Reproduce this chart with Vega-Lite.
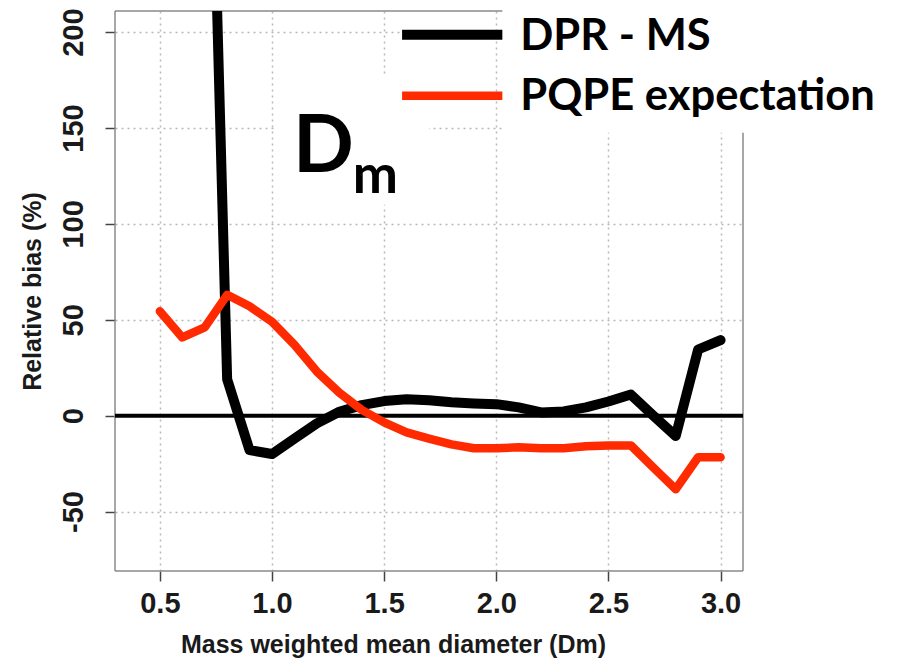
{
  "$schema": "https://vega.github.io/schema/vega-lite/v6.json",
  "width": 628,
  "height": 560,
  "autosize": "none",
  "padding": {"left": 115, "top": 11, "right": 172, "bottom": 95},
  "background": "white",
  "config": {
    "view": {"stroke": null},
    "axis": {
      "labelFont": "Liberation Sans",
      "labelFontWeight": "bold",
      "labelFontSize": 29,
      "labelColor": "#1a1a1a",
      "titleFont": "Liberation Sans",
      "titleFontWeight": "bold",
      "titleFontSize": 25,
      "titleColor": "#1a1a1a",
      "tickSize": 10,
      "tickColor": "#444",
      "tickWidth": 1.5,
      "domain": false,
      "grid": true,
      "gridColor": "#b8b8b8",
      "gridDash": [2, 4],
      "gridWidth": 1.5
    }
  },
  "datasets": {
    "series": [
      {"d": 0.7, "bias": 450, "series": "DPR - MS"},
      {"d": 0.8, "bias": 19, "series": "DPR - MS"},
      {"d": 0.9, "bias": -18, "series": "DPR - MS"},
      {"d": 1.0, "bias": -20, "series": "DPR - MS"},
      {"d": 1.1, "bias": -12, "series": "DPR - MS"},
      {"d": 1.2, "bias": -4, "series": "DPR - MS"},
      {"d": 1.3, "bias": 2, "series": "DPR - MS"},
      {"d": 1.4, "bias": 5.5, "series": "DPR - MS"},
      {"d": 1.5, "bias": 7.6, "series": "DPR - MS"},
      {"d": 1.6, "bias": 8.5, "series": "DPR - MS"},
      {"d": 1.7, "bias": 8, "series": "DPR - MS"},
      {"d": 1.8, "bias": 7, "series": "DPR - MS"},
      {"d": 1.9, "bias": 6.4, "series": "DPR - MS"},
      {"d": 2.0, "bias": 6, "series": "DPR - MS"},
      {"d": 2.1, "bias": 4.3, "series": "DPR - MS"},
      {"d": 2.2, "bias": 1.7, "series": "DPR - MS"},
      {"d": 2.3, "bias": 2.2, "series": "DPR - MS"},
      {"d": 2.4, "bias": 4.3, "series": "DPR - MS"},
      {"d": 2.5, "bias": 7.4, "series": "DPR - MS"},
      {"d": 2.6, "bias": 11, "series": "DPR - MS"},
      {"d": 2.7, "bias": 0, "series": "DPR - MS"},
      {"d": 2.8, "bias": -10.6, "series": "DPR - MS"},
      {"d": 2.9, "bias": 34.5, "series": "DPR - MS"},
      {"d": 3.0, "bias": 39.4, "series": "DPR - MS"},
      {"d": 0.5, "bias": 54.5, "series": "PQPE expectation"},
      {"d": 0.6, "bias": 40.8, "series": "PQPE expectation"},
      {"d": 0.7, "bias": 46, "series": "PQPE expectation"},
      {"d": 0.8, "bias": 63, "series": "PQPE expectation"},
      {"d": 0.9, "bias": 57, "series": "PQPE expectation"},
      {"d": 1.0, "bias": 49, "series": "PQPE expectation"},
      {"d": 1.1, "bias": 37, "series": "PQPE expectation"},
      {"d": 1.2, "bias": 23, "series": "PQPE expectation"},
      {"d": 1.3, "bias": 12, "series": "PQPE expectation"},
      {"d": 1.4, "bias": 3, "series": "PQPE expectation"},
      {"d": 1.5, "bias": -3.5, "series": "PQPE expectation"},
      {"d": 1.6, "bias": -8.7, "series": "PQPE expectation"},
      {"d": 1.7, "bias": -12, "series": "PQPE expectation"},
      {"d": 1.8, "bias": -15, "series": "PQPE expectation"},
      {"d": 1.9, "bias": -17, "series": "PQPE expectation"},
      {"d": 2.0, "bias": -17, "series": "PQPE expectation"},
      {"d": 2.1, "bias": -16.5, "series": "PQPE expectation"},
      {"d": 2.2, "bias": -17, "series": "PQPE expectation"},
      {"d": 2.3, "bias": -17, "series": "PQPE expectation"},
      {"d": 2.4, "bias": -16, "series": "PQPE expectation"},
      {"d": 2.5, "bias": -15.5, "series": "PQPE expectation"},
      {"d": 2.6, "bias": -15.5, "series": "PQPE expectation"},
      {"d": 2.7, "bias": -27, "series": "PQPE expectation"},
      {"d": 2.8, "bias": -38.4, "series": "PQPE expectation"},
      {"d": 2.9, "bias": -21.7, "series": "PQPE expectation"},
      {"d": 3.0, "bias": -21.7, "series": "PQPE expectation"}
    ],
    "frame": [
      {"x1": 0.3, "x2": 0.3, "y1": -81, "y2": 211},
      {"x1": 3.1, "x2": 3.1, "y1": -81, "y2": 211},
      {"x1": 0.3, "x2": 3.1, "y1": -81, "y2": -81},
      {"x1": 0.3, "x2": 3.1, "y1": 211, "y2": 211}
    ],
    "boxes": [
      {"x1": 1.015, "x2": 1.7, "y1": 110, "y2": 177},
      {"x1": 2.027, "x2": 4.0, "y1": 147.5, "y2": 240}
    ],
    "legend": [
      {"series": "DPR - MS", "x1": 1.58, "x2": 2.027, "y": 198.6, "lx": 2.107, "ly": 190.8},
      {"series": "PQPE expectation", "x1": 1.58, "x2": 2.027, "y": 166.8, "lx": 2.107, "ly": 159.5}
    ]
  },
  "layer": [
    {
      "data": {"name": "frame"},
      "mark": {"type": "rule", "color": "#8a8a8a", "strokeWidth": 1.5},
      "encoding": {
        "x": {"field": "x1", "type": "quantitative",
              "scale": {"domain": [0.3, 3.1], "nice": false, "zero": false},
              "axis": {"values": [0.5, 1.0, 1.5, 2.0, 2.5, 3.0], "format": ".1f", "labelPadding": 8, "titlePadding": 14, "titleX": 278, "title": "Mass weighted mean diameter (Dm)"}},
        "x2": {"field": "x2"},
        "y": {"field": "y1", "type": "quantitative",
              "scale": {"domain": [-81, 211], "nice": false, "zero": false},
              "axis": {"values": [-50, 0, 50, 100, 150, 200], "labelExpr": "datum.value < 0 ? '-' + abs(datum.value) : '' + datum.value", "labelAngle": -90, "labelAlign": "center", "labelBaseline": "bottom", "labelPadding": 17, "titlePadding": 14, "title": "Relative bias (%)"}},
        "y2": {"field": "y2"}
      }
    },
    {
      "data": {"values": [{"y": 0}]},
      "mark": {"type": "rule", "color": "black", "strokeWidth": 4},
      "encoding": {"y": {"field": "y", "type": "quantitative"}}
    },
    {
      "data": {"name": "series"},
      "mark": {"type": "line", "clip": true, "strokeCap": "round", "strokeJoin": "round"},
      "encoding": {
        "x": {"field": "d", "type": "quantitative"},
        "y": {"field": "bias", "type": "quantitative"},
        "color": {"field": "series", "type": "nominal",
                  "scale": {"domain": ["DPR - MS", "PQPE expectation"], "range": ["#000000", "#ff2a00"]}, "legend": null},
        "strokeWidth": {"field": "series", "type": "nominal",
                  "scale": {"domain": ["DPR - MS", "PQPE expectation"], "range": [10, 8.5]}, "legend": null}
      }
    },
    {
      "data": {"name": "boxes"},
      "mark": {"type": "rect", "color": "white"},
      "encoding": {
        "x": {"field": "x1", "type": "quantitative"},
        "x2": {"field": "x2"},
        "y": {"field": "y1", "type": "quantitative"},
        "y2": {"field": "y2"}
      }
    },
    {
      "data": {"name": "legend"},
      "mark": {"type": "rule", "strokeCap": "butt"},
      "encoding": {
        "x": {"field": "x1", "type": "quantitative"},
        "x2": {"field": "x2"},
        "y": {"field": "y", "type": "quantitative"},
        "color": {"field": "series", "type": "nominal", "scale": {"domain": ["DPR - MS", "PQPE expectation"], "range": ["#000000", "#ff0000"]}, "legend": null},
        "strokeWidth": {"field": "series", "type": "nominal", "scale": {"domain": ["DPR - MS", "PQPE expectation"], "range": [10, 8.5]}, "legend": null}
      }
    },
    {
      "data": {"name": "legend"},
      "mark": {"type": "text", "align": "left", "baseline": "alphabetic", "font": "Lato", "fontWeight": "bold", "fontSize": 43.5, "color": "black"},
      "encoding": {
        "x": {"field": "lx", "type": "quantitative"},
        "y": {"field": "ly", "type": "quantitative"},
        "text": {"field": "series"}
      }
    },
    {
      "data": {"values": [
        {"t": "D", "x": 1.094, "y": 127.2, "size": "big"},
        {"t": "m", "x": 1.36, "y": 116.3, "size": "sub"}
      ]},
      "mark": {"type": "text", "align": "left", "baseline": "alphabetic", "font": "Lato", "fontWeight": "bold", "color": "black"},
      "encoding": {
        "x": {"field": "x", "type": "quantitative"},
        "y": {"field": "y", "type": "quantitative"},
        "text": {"field": "t"},
        "size": {"field": "size", "type": "nominal", "scale": {"domain": ["big", "sub"], "range": [80, 54]}, "legend": null}
      }
    }
  ]
}
